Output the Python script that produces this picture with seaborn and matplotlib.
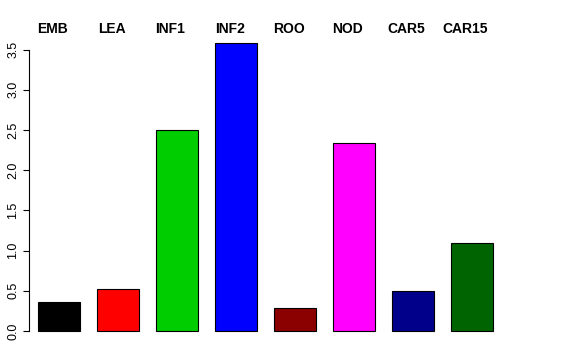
import matplotlib
matplotlib.use('Agg')
import matplotlib.pyplot as plt
import seaborn as sns

# ------------------------------------------------------------------ #
# Data
# ------------------------------------------------------------------ #
tissues = ['EMB', 'LEA', 'INF1', 'INF2', 'ROO', 'NOD', 'CAR5', 'CAR15']
values = [0.36, 0.52, 2.50, 3.58, 0.29, 2.34, 0.50, 1.10]
bar_colors = ['#000000', '#FF0000', '#00CD00', '#0000FF',
              '#8B0000', '#FF00FF', '#00008B', '#006400']
y_ticks = [0.0, 0.5, 1.0, 1.5, 2.0, 2.5, 3.0, 3.5]

sns.set_style('white')
plt.rcParams['font.family'] = ['Liberation Sans', 'DejaVu Sans']
plt.rcParams['text.color'] = 'black'
plt.rcParams['ytick.color'] = 'black'
plt.rcParams['axes.labelcolor'] = 'black'

fig = plt.figure(figsize=(5.76, 3.6), dpi=100)
ax = fig.add_axes([29 / 576, 20 / 360, 473 / 576, 300 / 360])

sns.barplot(x=tissues, y=values, hue=tissues, palette=bar_colors,
            legend=False, width=0.71, edgecolor='black', linewidth=0.8,
            saturation=1, ax=ax)

ax.set_xlim(-0.508, 7.508)
ax.set_ylim(-0.112, 3.62)

# labels above each bar column
for i, name in enumerate(tissues):
    ax.text(i - 0.11, 3.76, name, ha='center', va='center', color='black',
            fontsize=10, fontweight='bold', clip_on=False)

for side in ['top', 'right', 'bottom']:
    ax.spines[side].set_visible(False)
ax.spines['left'].set_bounds(0, 3.5)
ax.spines['left'].set_color('black')
ax.spines['left'].set_linewidth(0.8)

ax.set_xticks([])
ax.set_yticks(y_ticks)
ax.set_yticklabels([f'{t:.1f}' for t in y_ticks], rotation=90, va='center',
                   fontsize=9, color='black')
ax.tick_params(axis='y', direction='out', length=4, width=0.8, left=True,
               pad=3, colors='black')
ax.set_xlabel('')
ax.set_ylabel('')

fig.savefig('out.png', dpi=100)
